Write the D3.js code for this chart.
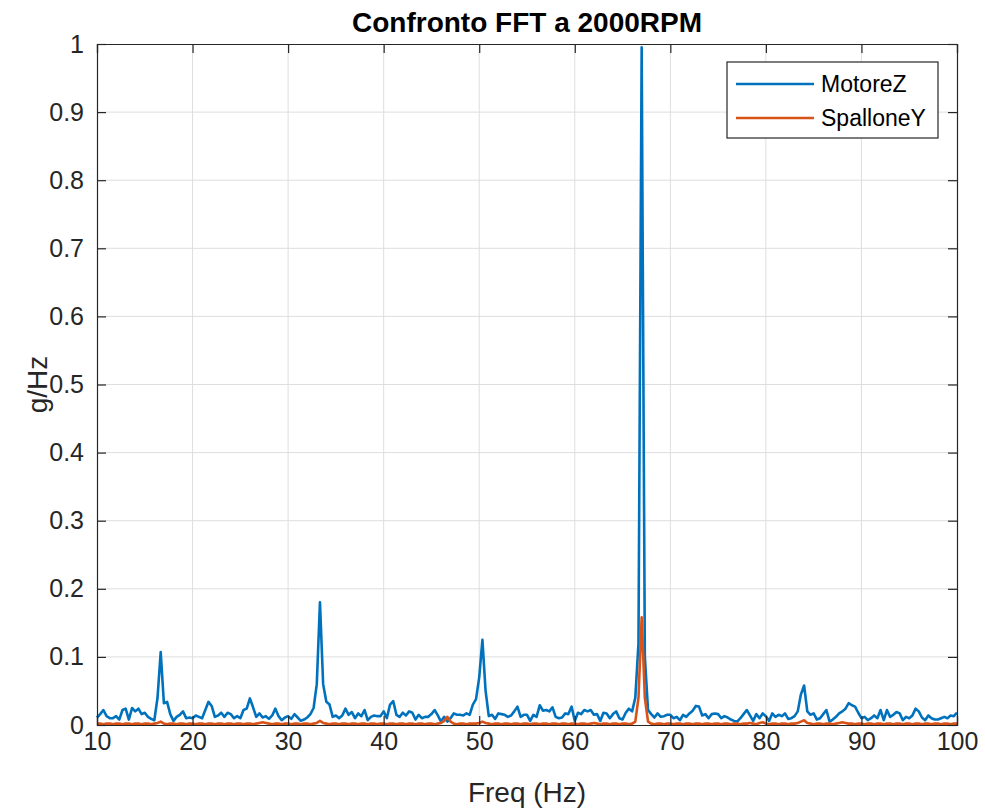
<!DOCTYPE html>
<html><head><meta charset="utf-8">
<script src="https://cdn.jsdelivr.net/npm/d3@7"></script>
<style>body{margin:0;background:#fff}svg{display:block}text{font-family:"Liberation Sans",Arial,Helvetica,sans-serif}</style>
</head><body><svg id="c" width="985" height="809"></svg>
<script>
const freqStart = 10, freqStep = 1/3;
const motoreZ = [
0.011,0.016,0.022,0.013,0.010,0.010,0.013,0.008,0.022,0.024,
0.008,0.025,0.020,0.024,0.016,0.018,0.012,0.009,0.007,0.040,
0.107,0.032,0.034,0.016,0.006,0.012,0.015,0.020,0.010,0.011,
0.010,0.014,0.012,0.010,0.022,0.034,0.028,0.012,0.014,0.018,
0.012,0.018,0.016,0.010,0.013,0.010,0.022,0.024,0.039,0.026,
0.012,0.017,0.011,0.013,0.009,0.014,0.024,0.013,0.007,0.011,
0.013,0.009,0.016,0.011,0.006,0.008,0.011,0.016,0.025,0.060,
0.180,0.060,0.034,0.030,0.012,0.014,0.010,0.014,0.024,0.015,
0.019,0.010,0.017,0.013,0.022,0.007,0.012,0.014,0.013,0.013,
0.020,0.010,0.030,0.035,0.015,0.012,0.018,0.014,0.020,0.018,
0.008,0.015,0.010,0.012,0.012,0.016,0.022,0.014,0.005,0.012,
0.005,0.010,0.017,0.015,0.015,0.014,0.017,0.015,0.030,0.038,
0.070,0.125,0.050,0.013,0.015,0.009,0.017,0.016,0.015,0.012,
0.014,0.020,0.027,0.012,0.015,0.015,0.006,0.015,0.012,0.029,
0.021,0.022,0.020,0.026,0.012,0.010,0.011,0.017,0.016,0.027,
0.006,0.018,0.016,0.022,0.020,0.022,0.015,0.016,0.006,0.018,
0.017,0.010,0.016,0.020,0.010,0.008,0.018,0.024,0.020,0.040,
0.120,0.995,0.100,0.022,0.016,0.011,0.017,0.012,0.013,0.015,
0.015,0.010,0.012,0.007,0.015,0.012,0.017,0.021,0.028,0.027,
0.014,0.016,0.010,0.016,0.017,0.016,0.010,0.013,0.011,0.008,
0.006,0.005,0.010,0.016,0.022,0.014,0.006,0.016,0.010,0.017,
0.013,0.006,0.017,0.012,0.015,0.013,0.017,0.009,0.010,0.013,
0.020,0.045,0.058,0.020,0.015,0.017,0.008,0.010,0.016,0.022,
0.005,0.008,0.012,0.017,0.020,0.024,0.032,0.029,0.027,0.018,
0.010,0.012,0.007,0.010,0.014,0.010,0.022,0.007,0.022,0.012,
0.015,0.019,0.017,0.007,0.012,0.010,0.014,0.024,0.020,0.011,
0.007,0.014,0.010,0.008,0.008,0.010,0.012,0.010,0.014,0.013,
0.018];
const spalloneY = [
0.002,0.002,0.001,0.002,0.002,0.001,0.002,0.002,0.001,0.002,
0.002,0.001,0.002,0.002,0.001,0.002,0.002,0.001,0.002,0.003,
0.005,0.002,0.001,0.002,0.002,0.001,0.002,0.002,0.001,0.002,
0.002,0.001,0.002,0.002,0.001,0.002,0.002,0.001,0.002,0.002,
0.001,0.002,0.002,0.001,0.002,0.002,0.001,0.002,0.002,0.001,
0.002,0.003,0.004,0.003,0.002,0.001,0.002,0.002,0.001,0.002,
0.002,0.001,0.002,0.002,0.001,0.002,0.002,0.001,0.002,0.003,
0.006,0.003,0.002,0.001,0.002,0.002,0.001,0.002,0.002,0.001,
0.002,0.002,0.001,0.002,0.002,0.001,0.002,0.002,0.001,0.002,
0.002,0.001,0.002,0.002,0.001,0.002,0.002,0.001,0.002,0.002,
0.001,0.002,0.002,0.001,0.002,0.002,0.001,0.002,0.003,0.006,
0.012,0.005,0.002,0.001,0.002,0.002,0.001,0.002,0.002,0.002,
0.003,0.005,0.003,0.002,0.001,0.002,0.002,0.001,0.002,0.002,
0.001,0.002,0.002,0.001,0.002,0.002,0.001,0.002,0.002,0.001,
0.002,0.002,0.001,0.002,0.002,0.001,0.002,0.002,0.001,0.002,
0.002,0.001,0.002,0.002,0.001,0.002,0.003,0.002,0.001,0.002,
0.002,0.001,0.002,0.002,0.001,0.002,0.002,0.001,0.002,0.005,
0.040,0.158,0.040,0.005,0.002,0.001,0.002,0.002,0.001,0.002,
0.002,0.001,0.002,0.002,0.001,0.002,0.002,0.001,0.002,0.002,
0.001,0.002,0.002,0.001,0.002,0.002,0.001,0.002,0.002,0.001,
0.002,0.002,0.001,0.002,0.002,0.003,0.002,0.001,0.003,0.004,
0.002,0.001,0.002,0.002,0.001,0.002,0.002,0.001,0.002,0.002,
0.003,0.005,0.007,0.003,0.002,0.001,0.002,0.002,0.001,0.002,
0.002,0.001,0.002,0.003,0.004,0.003,0.002,0.002,0.001,0.002,
0.002,0.001,0.002,0.002,0.001,0.002,0.002,0.001,0.002,0.002,
0.001,0.002,0.002,0.001,0.002,0.002,0.001,0.002,0.002,0.001,
0.002,0.002,0.001,0.002,0.002,0.001,0.002,0.002,0.001,0.002,
0.002];
const xTicks = [10,20,30,40,50,60,70,80,90,100];
const yTicks = [0,0.1,0.2,0.3,0.4,0.5,0.6,0.7,0.8,0.9,1];
const seriesNames = ["MotoreZ","SpalloneY"];
const seriesColors = ["#0072BD","#D95319"];
const titleText = "Confronto FFT a 2000RPM";
const xLabel = "Freq (Hz)", yLabel = "g/Hz";

const freqs = motoreZ.map((_, i) => freqStart + i * freqStep);
const svg = d3.select("#c");
const L = 97, R = 957, T = 44, B = 725;
const x = d3.scaleLinear().domain([10,100]).range([L,R]);
const y = d3.scaleLinear().domain([0,1]).range([B,T]);
const axisCol = "#262626", gridCol = "#dedede";

// grid
svg.append("g").selectAll("line").data(xTicks.slice(1,-1)).join("line")
  .attr("x1", d=>x(d)).attr("x2", d=>x(d)).attr("y1", T).attr("y2", B)
  .attr("stroke", gridCol).attr("stroke-width", 1);
svg.append("g").selectAll("line").data(yTicks.slice(1,-1)).join("line")
  .attr("y1", d=>y(d)).attr("y2", d=>y(d)).attr("x1", L).attr("x2", R)
  .attr("stroke", gridCol).attr("stroke-width", 1);

// lines
const series = [motoreZ, spalloneY];
series.forEach((vals, si) => {
  const line = d3.line().x((d,i)=>x(freqs[i])).y(d=>y(d));
  svg.append("path").datum(vals).attr("d", line)
    .attr("fill","none").attr("stroke", seriesColors[si])
    .attr("stroke-width", 2.6).attr("stroke-linejoin","round");
});

// axes
const tl = 9;
const fmt = d => d3.format("~g")(d);
const xb = svg.append("g").attr("transform", `translate(0,${B})`)
  .call(d3.axisBottom(x).tickValues(xTicks).tickSize(-tl).tickPadding(7).tickFormat(fmt));
const xt = svg.append("g").attr("transform", `translate(0,${T})`)
  .call(d3.axisTop(x).tickValues(xTicks).tickSize(-tl).tickFormat(""));
const yl = svg.append("g").attr("transform", `translate(${L},0)`)
  .call(d3.axisLeft(y).tickValues(yTicks).tickSize(-tl).tickPadding(13).tickFormat(fmt));
const yr = svg.append("g").attr("transform", `translate(${R},0)`)
  .call(d3.axisRight(y).tickValues(yTicks).tickSize(-tl).tickFormat(""));
[xb,xt,yl,yr].forEach(g => {
  g.select(".domain").attr("stroke", axisCol).attr("stroke-width", 1.2);
  g.selectAll(".tick line").attr("stroke", axisCol).attr("stroke-width", 1.2);
  g.selectAll(".tick text").attr("fill", axisCol).style("font-size","25px")
    .style("font-family",'"Liberation Sans",Arial,sans-serif');
});
xb.selectAll(".tick text").attr("dy","0.71em");

// title and labels
svg.append("text").attr("x", (L+R)/2).attr("y", 32).attr("text-anchor","middle")
  .style("font-size","28px").style("font-weight","bold").attr("fill","#000").text(titleText);
svg.append("text").attr("x", (L+R)/2).attr("y", 802).attr("text-anchor","middle")
  .style("font-size","28px").attr("fill",axisCol).text(xLabel);
svg.append("text").attr("transform", `translate(47,${(T+B)/2}) rotate(-90)`).attr("text-anchor","middle")
  .style("font-size","28px").attr("fill",axisCol).text(yLabel);

// legend
const lg = svg.append("g");
lg.append("rect").attr("x",727).attr("y",62).attr("width",211).attr("height",76)
  .attr("fill","#fff").attr("stroke",axisCol).attr("stroke-width",1.2);
seriesNames.forEach((n,i) => {
  const yy = 84 + i*34;
  lg.append("line").attr("x1",736).attr("x2",814).attr("y1",yy).attr("y2",yy)
    .attr("stroke",seriesColors[i]).attr("stroke-width",2.6);
  lg.append("text").attr("x",821).attr("y",yy+8).style("font-size","23px").attr("fill","#000").text(n);
});
</script></body></html>
